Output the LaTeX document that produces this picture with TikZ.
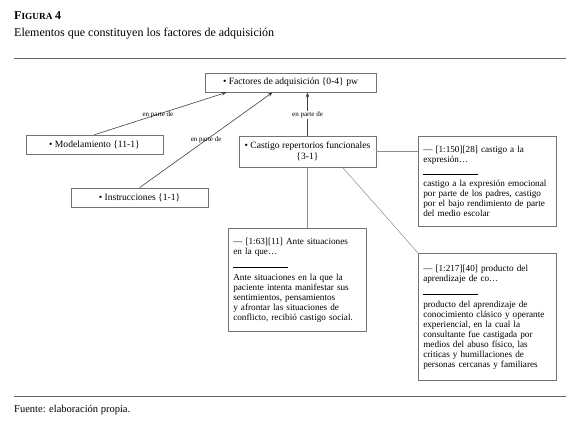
\documentclass[tikz,border=0pt]{standalone}
\usepackage{fontspec}
\setmainfont{Liberation Serif}
\usetikzlibrary{arrows.meta}

\begin{document}
\begin{tikzpicture}[x=1pt, y=-1pt,
    b/.style={draw=black!55, line width=0.6pt, minimum width=137pt, minimum height=19pt, inner sep=0pt, font=\fontsize{9.6}{11}\selectfont},
    q/.style={draw=black!55, line width=0.6pt, anchor=north west, align=left, text width=128pt, inner xsep=5pt, inner ysep=0pt, font=\fontsize{9.2}{10}\selectfont},
    lab/.style={font=\fontsize{7}{8}\selectfont, inner sep=1pt},
    arr/.style={-{Stealth[length=5pt,width=3.5pt]}, draw=black!75, line width=0.6pt},
    ln/.style={draw=black!45, line width=0.5pt}]
\useasboundingbox (0,0) rectangle (580,426);

% title
\node[anchor=base west, inner sep=0pt, font=\bfseries] (fig) at (14,19) {{\fontsize{12}{13}\selectfont F}{\fontsize{9.3}{10}\selectfont IGURA} {\fontsize{12}{13}\selectfont 4}};
\node[anchor=base west, inner sep=0pt, font=\fontsize{12}{14}\selectfont] (tit) at (14,36) {Elementos que constituyen los factores de adquisición};
\draw[black!60, line width=0.8pt] (14,58) -- (566,58);

% codes
\node[b, minimum width=171pt] (fact) at (290.5,82.5) {• Factores de adquisición \{0-4\} pw};
\node[b] (model) at (94.5,144.5) {• Modelamiento \{11-1\}};
\node[b] (instr) at (139.5,197.5) {• Instrucciones \{1-1\}};
\node[b, minimum height=31pt, align=center] (castigo) at (307.5,151.5) {• Castigo repertorios funcionales\\\{3-1\}};

% quotations
\node[q, minimum height=90pt] (q150) at (418,136) {— [1:150][28] castigo a la\\expresión…\\[2pt]\rule{55pt}{0.5pt}\\[2pt]castigo a la expresión emocional\\por parte de los padres, castigo\\por el bajo rendimiento de parte\\del medio escolar};
\node[q, minimum height=103pt] (q63) at (228,228) {— [1:63][11] Ante situaciones\\en la que…\\[3pt]\rule{55pt}{0.5pt}\\[3pt]Ante situaciones en la que la\\paciente intenta manifestar sus\\sentimientos, pensamientos\\y afrontar las situaciones de\\conflicto, recibió castigo social.};
\node[q, minimum height=127pt] (q217) at (418,253) {— [1:217][40] producto del\\aprendizaje de co…\\[3pt]\rule{55pt}{0.5pt}\\[3pt]producto del aprendizaje de\\conocimiento clásico y operante\\experiencial, en la cual la\\consultante fue castigada por\\medios del abuso físico, las\\criticas y humillaciones de\\personas cercanas y familiares};

\draw[arr] (model.north) -- node[lab, pos=0.48] {en parte de} ([xshift=22pt]fact.south west);
\draw[arr] (instr.north) -- node[lab, pos=0.5] {en parte de} ([xshift=68pt]fact.south west);
\draw[arr] (castigo.north) -- node[lab, fill=white, pos=0.47] {en parte de} (castigo.north |- fact.south);

\draw[ln] (castigo.east) -- (q150.west |- castigo.east);
\draw[ln] (castigo.south) -- (castigo.south |- q63.north);
\draw[ln] ([xshift=35pt]castigo.south) -- (q217.north west);

% source
\draw[black!60, line width=0.8pt] (14,396) -- (566,396);
\node[anchor=base west, inner sep=0pt, font=\fontsize{10.5}{12}\selectfont] (src) at (14,412) {Fuente: elaboración propia.};
\end{tikzpicture}
\end{document}
